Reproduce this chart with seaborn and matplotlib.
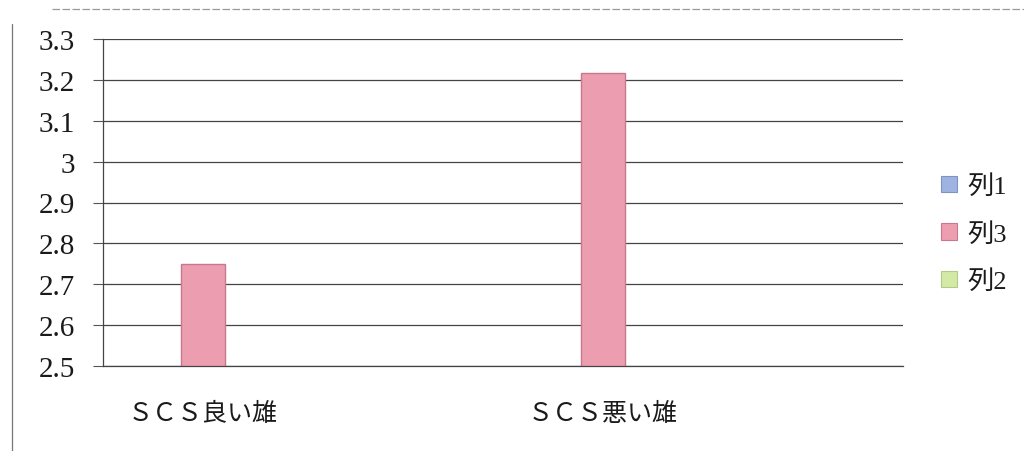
import numpy as np
import pandas as pd
import matplotlib
matplotlib.use("Agg")
import matplotlib.pyplot as plt
from matplotlib.patches import Patch
from matplotlib.lines import Line2D
from matplotlib import font_manager
import seaborn as sns

# Categories along the x axis (Excel only labels every other one)
categories = ["ＳＣＳ良い雄", "cat2", "ＳＣＳ悪い雄", "cat4"]
category_labels = ["ＳＣＳ良い雄", "", "ＳＣＳ悪い雄", ""]
series_names = ["列1", "列3", "列2"]
col1_values = [np.nan, np.nan, np.nan, np.nan]
col3_values = [2.75, np.nan, 3.217, np.nan]
col2_values = [np.nan, np.nan, np.nan, np.nan]
y_ticks = [2.5, 2.6, 2.7, 2.8, 2.9, 3.0, 3.1, 3.2, 3.3]
y_tick_labels = ["2.5", "2.6", "2.7", "2.8", "2.9", "3", "3.1", "3.2", "3.3"]

series_colors = {"列1": "#9FB3E3", "列3": "#EC9EB0", "列2": "#D3E9A6"}
edge_colors = {"列1": "#7F93C3", "列3": "#C9788C", "列2": "#B3C986"}

rows = []
for name, vals in zip(series_names, [col1_values, col3_values, col2_values]):
    for cat, v in zip(categories, vals):
        rows.append({"category": cat, "series": name, "value": v})
df = pd.DataFrame(rows)

sns.set_theme(style="white")
available = {f.name for f in font_manager.fontManager.ttflist}
serif = "Liberation Serif" if "Liberation Serif" in available else "DejaVu Serif"
text_family = [serif, "Noto Sans CJK JP", "DejaVu Sans"]
plt.rcParams["font.family"] = text_family

fig = plt.figure(figsize=(10.24, 4.52), dpi=100)
ax = fig.add_axes([103 / 1024, 1 - 367 / 452, 800 / 1024, 327 / 452])

sns.barplot(
    data=df, x="category", y="value", hue="series",
    order=categories, hue_order=series_names,
    palette=series_colors, width=0.667, dodge=True, saturation=1,
    errorbar=None, legend=False, ax=ax,
    linewidth=1.0, edgecolor=edge_colors["列3"],
)

ax.set_ylim(2.5, 3.3)
ax.set_xlim(-0.5, len(categories) - 0.5)
ax.set_yticks(y_ticks)
ax.set_yticklabels(y_tick_labels, fontsize=21, color="#1a1a1a", family=text_family)
ax.set_xlabel("")
ax.set_ylabel("")

# category labels centred on the categories, tick marks on the boundaries
ax.set_xticks(range(len(categories)))
ax.set_xticklabels(category_labels, fontsize=18, color="#1a1a1a", family=text_family)
ax.tick_params(axis="x", length=0, pad=26)
ax.set_xticks(np.arange(-0.5, len(categories)), minor=True)
ax.tick_params(axis="x", which="minor", length=5, width=0.8, color="#555555", direction="out")
ax.tick_params(axis="y", length=7, width=0.8, color="#555555", direction="out", pad=13, left=True)

for y in y_ticks:
    ax.axhline(y, color="#444444", linewidth=0.9, zorder=0)
for side in ["top", "right"]:
    ax.spines[side].set_visible(False)
for side in ["left", "bottom"]:
    ax.spines[side].set_color("#444444")
    ax.spines[side].set_linewidth(0.9)

handles = [Patch(facecolor=series_colors[n], edgecolor=edge_colors[n], linewidth=0.8, label=n)
           for n in series_names]
leg = fig.legend(handles=handles, loc="center left", bbox_to_anchor=(917 / 1024, 1 - 235 / 452),
                 frameon=False, prop={"family": text_family, "size": 19},
                 handlelength=0.6, handleheight=0.6, handletextpad=0.4, labelspacing=0.9)
for t in leg.get_texts():
    t.set_color("#1a1a1a")

# chart area border fragments
fig.add_artist(Line2D([12 / 1024, 12 / 1024], [0, 1 - 25 / 452], transform=fig.transFigure,
                      color="#777777", linewidth=0.9))
fig.add_artist(Line2D([52 / 1024, 1], [1 - 10 / 452, 1 - 10 / 452], transform=fig.transFigure,
                      color="#999999", linewidth=0.9, linestyle=(0, (6, 2))))

fig.savefig("out.png", dpi=100)
